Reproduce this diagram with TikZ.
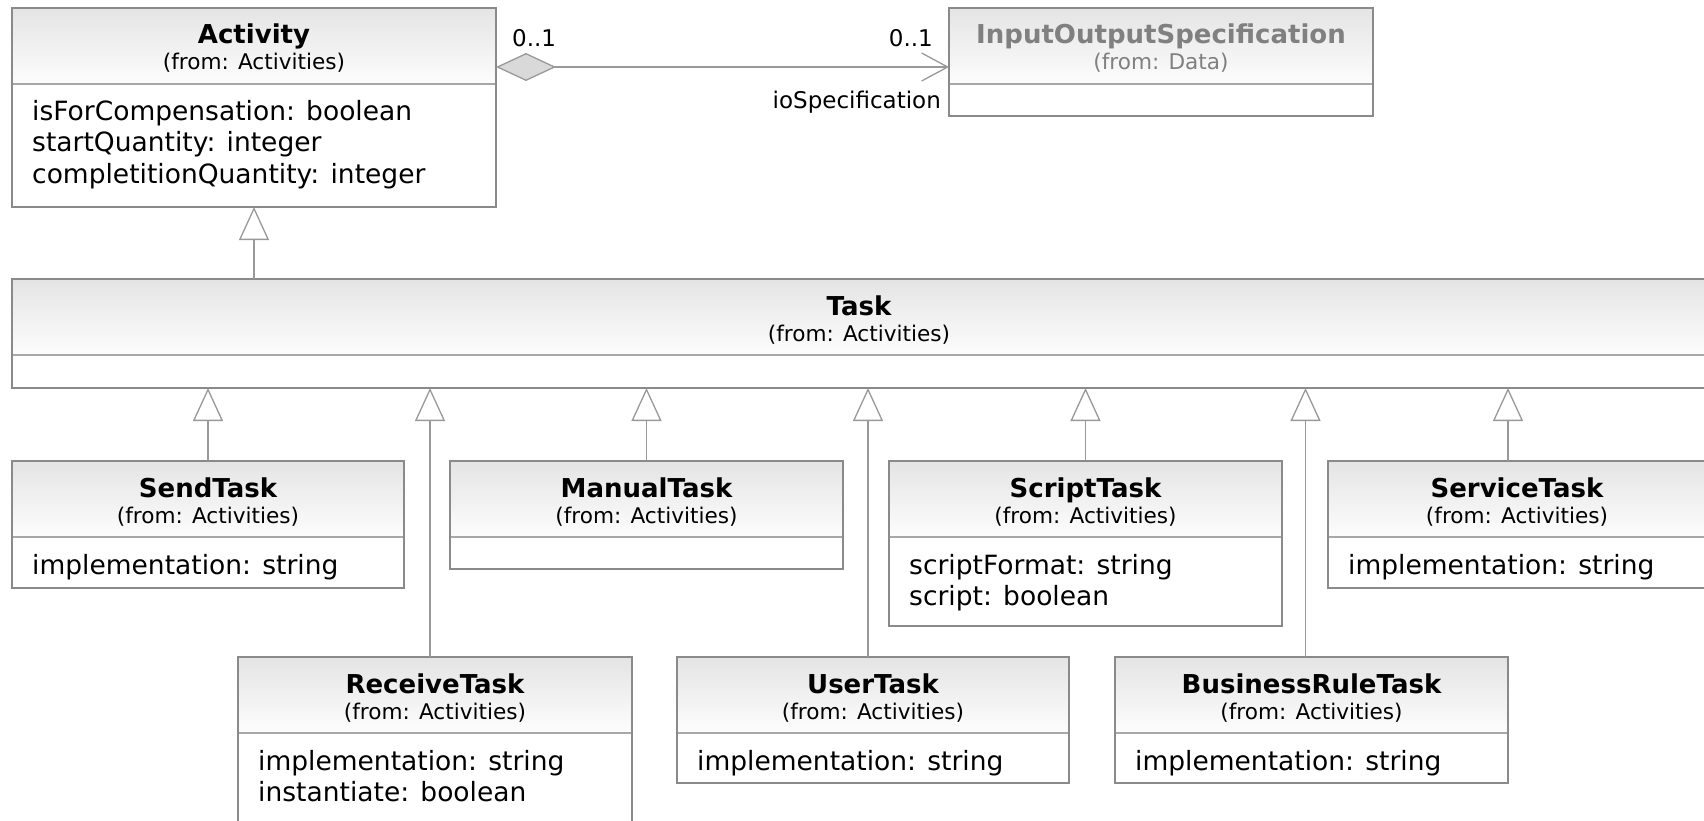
\documentclass[tikz,border=0pt]{standalone}
\usepackage{fontspec}
\setmainfont{DejaVu Sans}
\usetikzlibrary{arrows.meta}

\definecolor{boxline}{HTML}{8A8A8A}
\definecolor{compline}{HTML}{A8A8A8}
\definecolor{hdrtop}{HTML}{E4E4E4}
\definecolor{hdrbot}{HTML}{FDFDFD}
\definecolor{connline}{HTML}{999999}
\definecolor{greytext}{HTML}{808080}
\definecolor{diamondfill}{HTML}{D9D9D9}

\tikzset{
  classframe/.style={draw=boxline, line width=1.3pt, inner sep=0pt, outer sep=0pt},
  titletext/.style={font=\fontsize{26}{30}\selectfont\bfseries, inner sep=0pt, anchor=base},
  fromtext/.style={font=\fontsize{21.6}{26}\selectfont, inner sep=0pt, anchor=base},
  attrtext/.style={font=\fontsize{26.5}{31}\selectfont, inner sep=0pt, anchor=base west},
  multtext/.style={font=\fontsize{23}{27}\selectfont, inner sep=0pt},
  foreign/.style={text=greytext},
  plain/.style={},
  connector/.style={draw=connline, line width=1.3pt},
  gen/.style={connector, -{Triangle[fill=white, length=33pt, width=30pt]}},
  assoc/.style={connector,
    {Diamond[fill=diamondfill, length=60pt, width=28pt]}-{Straight Barb[length=26pt, width=28pt]}},
}

% UML class: name, left, top, right, bottom, text style, title, package, attributes
\newcommand\umlclass[9]{%
  \shade[top color=hdrtop, bottom color=hdrbot] (#2,#3) rectangle (#4,#3+76);
  \draw[draw=compline, line width=1.3pt] (#2,#3+76) -- (#4,#3+76);
  \node[classframe, anchor=north west, minimum width={#4-#2}, minimum height={#5-#3}] (#1) at (#2,#3) {};
  \node[titletext,#6] (#1-name) at ({(#2+#4)/2},#3+36) {#7};
  \node[fromtext,#6] (#1-pkg) at ({(#2+#4)/2},#3+62) {(from: #8)};
  \if\relax\detokenize{#9}\relax\else
    \foreach \attr [count=\i from 0] in {#9}
      \node[attrtext] (#1-attr\i) at (#2+20,#3+113+31*\i) {\attr};
  \fi}

\begin{document}
\begin{tikzpicture}[x=1pt, y=-1pt]
  \clip (0,0) rectangle (1704,821);
  \fill[white] (0,0) rectangle (1704,821);

  % top row
  \umlclass{activity}{12}{8}{496}{207}{plain}{Activity}{Activities}
    {isForCompensation: boolean,startQuantity: integer,completitionQuantity: integer}
  \umlclass{ios}{949}{8}{1373}{116}{foreign}{InputOutputSpecification}{Data}{}

  % general task
  \umlclass{task}{12}{279}{1706}{388}{plain}{Task}{Activities}{}

  % first row of specialisations
  \umlclass{send}{12}{461}{404}{588}{plain}{SendTask}{Activities}{implementation: string}
  \umlclass{manual}{450}{461}{843}{569}{plain}{ManualTask}{Activities}{}
  \umlclass{script}{889}{461}{1282}{626}{plain}{ScriptTask}{Activities}
    {scriptFormat: string,script: boolean}
  \umlclass{service}{1328}{461}{1706}{588}{plain}{ServiceTask}{Activities}{implementation: string}

  % second row of specialisations
  \umlclass{receive}{238}{657}{632}{840}{plain}{ReceiveTask}{Activities}
    {implementation: string,instantiate: boolean}
  \umlclass{user}{677}{657}{1069}{783}{plain}{UserTask}{Activities}{implementation: string}
  \umlclass{rule}{1115}{657}{1508}{783}{plain}{BusinessRuleTask}{Activities}{implementation: string}

  % aggregation Activity -> InputOutputSpecification
  \draw[assoc] ([yshift=-59pt]activity.north east) -- ([yshift=-59pt]ios.north west);
  \node[multtext, anchor=base west] (multA) at ([xshift=16pt, yshift=-39pt]activity.north east) {0..1};
  \node[multtext, anchor=base east] (multB) at ([xshift=-16pt, yshift=-39pt]ios.north west) {0..1};
  \node[multtext, anchor=base east] (role) at ([xshift=-8pt, yshift=-101pt]ios.north west) {ioSpecification};

  % generalisations
  \draw[gen] ([xshift=242pt]task.north west) -- ([xshift=242pt]activity.south west);
  \draw[gen] (send.north) -- (send.north |- task.south);
  \draw[gen] ([xshift=-5pt]receive.north) -- ([xshift=-5pt]receive.north |- task.south);
  \draw[gen] (manual.north) -- (manual.north |- task.south);
  \draw[gen] ([xshift=-5pt]user.north) -- ([xshift=-5pt]user.north |- task.south);
  \draw[gen] (script.north) -- (script.north |- task.south);
  \draw[gen] ([xshift=-6pt]rule.north) -- ([xshift=-6pt]rule.north |- task.south);
  \draw[gen] ([xshift=-9pt]service.north) -- ([xshift=-9pt]service.north |- task.south);
\end{tikzpicture}
\end{document}
